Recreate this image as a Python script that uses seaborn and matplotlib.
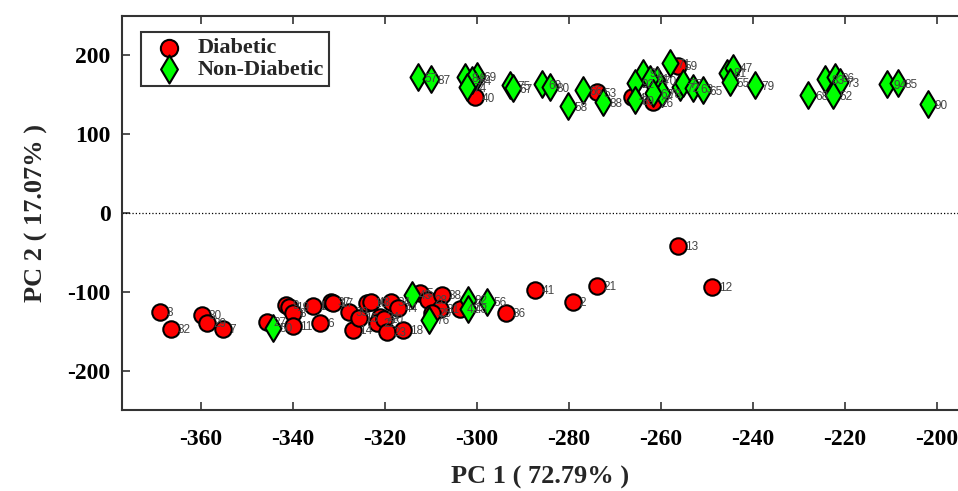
import pandas as pd
import matplotlib
matplotlib.use("Agg")
import matplotlib.pyplot as plt
import seaborn as sns

# PCA scores
diab_x = [-368.9, -366.5, -359.8, -358.7, -355.2, -345.7, -341.5, -340.9, -340.0, -340.0,
          -335.7, -334.1, -331.7, -331.3, -327.8, -327.0, -325.7, -323.9, -323.0, -321.1,
          -321.7, -320.2, -319.6, -318.7, -317.2, -316.1, -312.4, -310.7, -307.6, -308.0,
          -309.8, -303.7, -293.7, -287.4, -279.1, -273.9, -256.3, -248.9,
          -300.4, -273.9, -266.3, -261.7, -256.3]
diab_y = [-124.8, -146.3, -128.6, -138.7, -146.3, -137.5, -116.0, -118.5, -126.1, -142.5,
          -117.3, -138.7, -112.2, -113.5, -124.8, -147.5, -132.4, -113.5, -112.2, -131.1,
          -138.7, -134.0, -150.1, -112.2, -119.8, -147.5, -100.9, -109.7, -103.4, -121.1,
          -126.1, -121.1, -126.1, -97.1, -112.2, -92.1, -41.6, -93.3,
          146.3, 152.6, 146.3, 140.0, 186.6]
diab_lab = ['3', '32', '30', '29', '7', '27', '9', '19', '8', '11',
            '1', '6', '37', '17', '39', '14', '15', '10', '43', '24',
            '22', '20', '23', '34', '44', '18', '5', '28', '38', '31',
            '25', '42', '36', '41', '2', '21', '13', '12',
            '40', '53', '4', '26', '59']

nond_x = [-312.8, -310.0, -302.6, -300.0, -301.1, -302.2, -292.8, -292.2, -285.9, -284.1,
          -280.2, -277.0, -272.6, -263.9, -265.7, -265.7, -260.9, -262.4, -259.8, -261.7,
          -258.0, -255.9, -255.2, -253.0, -250.9, -245.7, -244.3, -245.0, -239.6, -228.0,
          -224.3, -222.2, -221.1, -222.6, -210.9, -208.5, -202.0,
          -344.3, -314.1, -310.4, -302.0, -302.0, -297.8]
nond_y = [171.5, 169.0, 171.5, 172.8, 167.7, 158.9, 161.4, 157.6, 162.7, 158.9,
          134.9, 155.1, 140.0, 177.8, 163.9, 142.5, 167.7, 170.2, 151.3, 151.3,
          189.2, 158.9, 163.9, 157.6, 155.1, 177.8, 184.1, 165.2, 161.4, 148.8,
          169.0, 171.5, 165.2, 148.8, 162.7, 163.9, 137.5,
          -145.0, -103.4, -134.9, -109.7, -121.1, -112.2]
nond_lab = ['57', '87', '84', '69', '64', '74', '75', '67', '60', '80',
            '58', '66', '88', '91', '92', '89', '70', '61', '78', '62',
            '71', '72', '77', '63', '65', '81', '47', '55', '79', '68',
            '83', '86', '73', '52', '94', '85', '90',
            '50', '45', '76', '82', '48', '56']

diab = pd.DataFrame({'PC1': diab_x, 'PC2': diab_y, 'id': diab_lab})
nond = pd.DataFrame({'PC1': nond_x, 'PC2': nond_y, 'id': nond_lab})

sns.set_style("ticks")
plt.rcParams['font.family'] = ['Liberation Serif', 'DejaVu Serif']
plt.rcParams['axes.unicode_minus'] = False

fig, ax = plt.subplots(figsize=(9.58, 4.91), dpi=100)
fig.subplots_adjust(left=0.127, right=1.0, bottom=0.165, top=0.967)

ax.axhline(0, color='black', linestyle=':', linewidth=0.9, zorder=1)

sns.scatterplot(data=diab, x='PC1', y='PC2', ax=ax, color='#ff0000', marker='o',
                s=140, edgecolor='black', linewidth=1.5, label='Diabetic', zorder=3)
sns.scatterplot(data=nond, x='PC1', y='PC2', ax=ax, color='#00ff00', marker='d',
                s=185, edgecolor='black', linewidth=1.5, label='Non-Diabetic', zorder=4)

# sample numbers next to each point
for df in (diab, nond):
    for _, r in df.iterrows():
        ax.annotate(r['id'], (r['PC1'], r['PC2']), xytext=(5, -1), textcoords='offset points',
                    va='center', ha='left', fontsize=8.5, color='#444444',
                    family=['Liberation Sans', 'DejaVu Sans'], zorder=5)

ax.set_xlim(-377.2, -195.4)
ax.set_ylim(-249, 249)
ax.set_xticks(range(-360, -199, 20))
ax.set_yticks([-200, -100, 0, 100, 200])

ax.set_xlabel('PC 1 ( 72.79% )', fontsize=19, fontweight='bold', labelpad=11)
ax.set_ylabel('PC 2 ( 17.07% )', fontsize=19, fontweight='bold', labelpad=14)

ax.tick_params(direction='in', length=6, width=1.1, top=True, right=False,
               labelsize=17, colors='#222222')
ax.tick_params(axis='x', pad=14)
ax.tick_params(axis='y', pad=8)
for lbl in ax.get_xticklabels() + ax.get_yticklabels():
    lbl.set_fontweight('bold')
    lbl.set_color('black')

for side in ['left', 'bottom', 'top']:
    ax.spines[side].set_linewidth(1.5)
    ax.spines[side].set_color('#333333')
ax.spines['right'].set_visible(False)

leg = ax.legend(loc='upper left', bbox_to_anchor=(0.023, 0.959), borderaxespad=0,
                frameon=True, fancybox=False, handletextpad=0.3, borderpad=0.25,
                labelspacing=0.05, markerscale=1.05, prop={'weight': 'bold', 'size': 16})
leg.get_frame().set_edgecolor('#333333')
leg.get_frame().set_linewidth(1.5)
leg.get_frame().set_alpha(1)

fig.savefig('out.png', dpi=100)
